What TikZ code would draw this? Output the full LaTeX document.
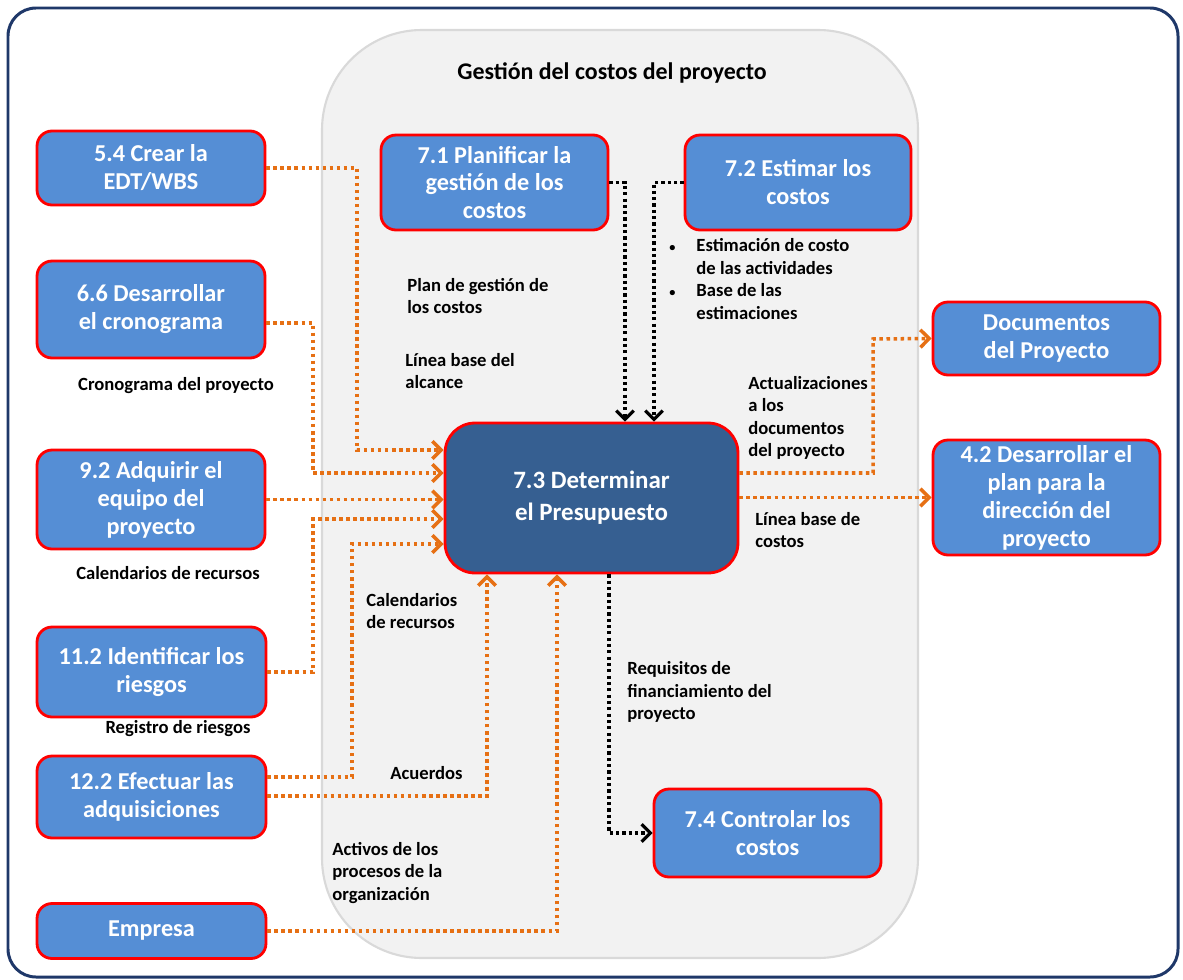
\documentclass[tikz,border=0pt]{standalone}
\usepackage{fontspec}
\setmainfont{Carlito}
\usetikzlibrary{arrows.meta}
\definecolor{procblue}{RGB}{85,142,213}
\definecolor{keyblue}{RGB}{54,95,145}
\definecolor{procred}{RGB}{255,0,0}
\definecolor{flowor}{RGB}{230,112,20}
\definecolor{framenavy}{RGB}{31,56,105}
\definecolor{areagray}{RGB}{242,242,242}
\definecolor{areaedge}{RGB}{217,217,217}
\begin{document}
\begin{tikzpicture}[x=0.02cm,y=-0.02cm,
  proc/.style={draw=procred, line width=1.6pt, fill=procblue, rounded corners=0.3cm,
    text=white, font=\fontsize{13.8}{15.9}\selectfont\bfseries, align=center, inner sep=1pt},
  lbl/.style={font=\fontsize{10.6}{12.8}\selectfont\bfseries, align=left, inner sep=0pt, text=black},
  oarr/.style={draw=flowor, line width=2pt, dash pattern=on 2pt off 2pt,
    -{Straight Barb[length=5pt,width=10pt]}},
  karr/.style={draw=black, line width=1.8pt, dash pattern=on 1.8pt off 1.8pt,
    -{Straight Barb[length=5pt,width=10pt]}}
]
\useasboundingbox (0,0) rectangle (1183,980);
\fill[white] (0,0) rectangle (1183,980);

% outer frame and process group area
\draw[framenavy, line width=1.7pt, rounded corners=0.56cm] (8,8) rectangle (1178,977);
\draw[areaedge, fill=areagray, line width=1.2pt, rounded corners=2cm] (322,30) rectangle (918,958);
\node[font=\fontsize{13.6}{16}\selectfont\bfseries, inner sep=0pt] (title) at (612,73) {Gestión del costos del proyecto};

% external processes (left)
\node[proc, minimum width=4.56cm, minimum height=1.48cm] (e54) at (151,168) {5.4 Crear la\\EDT/WBS};
\node[proc, minimum width=4.56cm, minimum height=1.94cm] (e66) at (151,309.5) {6.6 Desarrollar\\el cronograma};
\node[proc, minimum width=4.56cm, minimum height=1.98cm] (e92) at (151,499.5) {9.2 Adquirir el\\equipo del\\proyecto};
\node[proc, minimum width=4.58cm, minimum height=1.80cm] (e112) at (151.5,672) {11.2 Identificar los\\riesgos};
\node[proc, minimum width=4.58cm, minimum height=1.64cm] (e122) at (151.5,797) {12.2 Efectuar las\\adquisiciones};
\node[proc, minimum width=4.58cm, minimum height=1.10cm] (emp) at (151.5,931) {Empresa};

% cost management processes
\node[proc, minimum width=4.54cm, minimum height=1.90cm] (p71) at (494.5,182.5) {7.1 Planificar la\\gestión de los\\costos};
\node[proc, minimum width=4.52cm, minimum height=1.90cm] (p72) at (798,182.5) {7.2 Estimar los\\costos};
\node[proc, fill=keyblue, rounded corners=0.6cm, minimum width=5.86cm, minimum height=3.0cm,
  font=\fontsize{14.2}{18}\selectfont\bfseries] (p73) at (591.5,498) {7.3 Determinar\\el Presupuesto};
\node[proc, minimum width=4.54cm, minimum height=1.76cm] (p74) at (767.5,833) {7.4 Controlar los\\costos};

% external outputs (right)
\node[proc, minimum width=4.54cm, minimum height=1.46cm] (doc) at (1046.5,338.5) {Documentos\\del Proyecto};
\node[proc, minimum width=4.54cm, minimum height=2.30cm] (p42) at (1046.5,497.5) {4.2 Desarrollar el\\plan para la\\dirección del\\proyecto};

% flow labels
\node[lbl] (l66) at (176,386) {Cronograma del proyecto};
\node[lbl] (l92) at (168,573) {Calendarios de recursos};
\node[lbl] (l112) at (178,729) {Registro de riesgos};
\node[lbl, anchor=west] (lplan) at (407,296) {Plan de gestión de\\los costos};
\node[lbl, anchor=west] (lalc) at (405,371) {Línea base del\\alcance};
\node[lbl, anchor=west] (lest) at (669,281) {\begin{tabular}{@{}l@{\hspace{0.42cm}}l@{}}{\fontsize{7}{7}\selectfont •}&Estimación de costo\\&de las actividades\\{\fontsize{7}{7}\selectfont •}&Base de las\\&estimaciones\end{tabular}};
\node[lbl, anchor=west] (lact) at (748,418) {Actualizaciones\\a los\\documentos\\del proyecto};
\node[lbl, anchor=west] (llbc) at (755,530) {Línea base de\\costos};
\node[lbl, anchor=west] (lcal) at (366,611) {Calendarios\\de recursos};
\node[lbl, anchor=west] (lreq) at (627,692) {Requisitos de\\financiamiento del\\proyecto};
\node[lbl, anchor=west] (lacu) at (390,773) {Acuerdos};
\node[lbl, anchor=west] (lact2) at (332,873) {Activos de los\\procesos de la\\organización};

% inputs to 7.3
\draw[oarr] (e54.east) -| (357,450) -- (p73.west |- 0,450);
\draw[oarr] (e66.east |- 0,323) -| (313,473) -- (p73.west |- 0,473);
\draw[oarr] (e92.east) -- (p73.west |- e92.east);
\draw[oarr] (e112.east) -| (313,519) -- (p73.west |- 0,519);
\draw[oarr] (e122.east |- 0,777) -| (352,544) -- (p73.west |- 0,544);
\draw[oarr] (e122.east |- 0,796) -| (p73.south -| 487,0);
\draw[oarr] (emp.east) -| (p73.south -| 557,0);
\draw[karr] (p71.east) -| (p73.north -| 625,0);
\draw[karr] (p72.west) -| (p73.north -| 654,0);

% outputs of 7.3
\draw[oarr] (p73.east |- 0,473) -| (873,339) -- (doc.west);
\draw[oarr] (p73.east |- p42.west) -- (p42.west);
\draw[karr] (p73.south -| 609,0) |- (p74.west);
\end{tikzpicture}
\end{document}
